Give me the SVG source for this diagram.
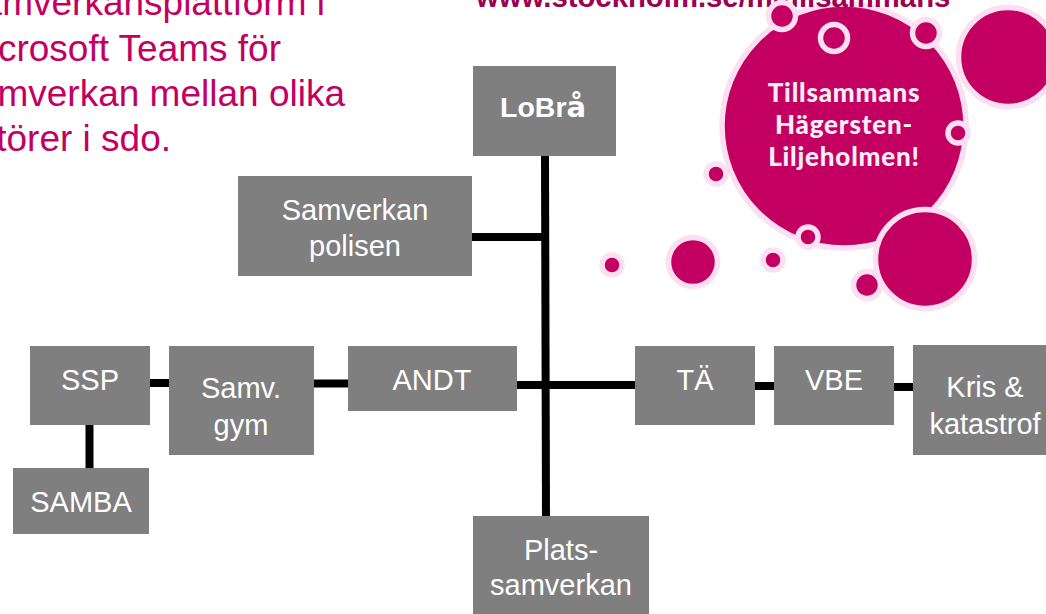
<svg xmlns="http://www.w3.org/2000/svg" width="1046" height="614" viewBox="0 0 1046 614">
<style>
.box{fill:#7f7f7f}
.lbl{font-family:"Liberation Sans",Arial,sans-serif;font-size:29px;fill:#fff;text-anchor:middle}
.intro{font-family:"Liberation Sans",Arial,sans-serif;font-size:37px;fill:#c30061;text-anchor:end}
.c{fill:#c30061;stroke:#fcdff0;stroke-width:5.500}
.hero{font-family:Lato,"Liberation Sans",sans-serif;font-weight:900;font-size:26px;letter-spacing:.8px;fill:#fdeef6;text-anchor:middle}
.ln{stroke:#000;stroke-width:8;fill:none}
</style>
<rect width="1046" height="614" fill="#fff"/>
<g id="intro">
<text class="intro" x="325" y="15">Samverkansplattform i</text>
<text class="intro" x="281" y="61">Microsoft Teams för</text>
<text class="intro" x="345" y="106">samverkan mellan olika</text>
<text class="intro" x="171" y="151">aktörer i sdo.</text>
</g>
<g id="bubbles">
<circle class="c" cx="844" cy="126" r="122"/>
<text id="url" x="476" y="7" font-family="Liberation Sans,Arial,sans-serif" font-weight="700" font-size="29.300px" fill="#9e0050">www.stockholm.se/m/tillsammans</text>
<circle class="c" cx="782" cy="16" r="13.500"/>
<circle class="c" cx="834" cy="38" r="13.500"/>
<circle class="c" cx="926" cy="33" r="13.500"/>
<circle class="c" cx="1008" cy="57" r="49.500"/>
<circle class="c" cx="958" cy="133" r="10"/>
<circle class="c" cx="716" cy="174" r="10"/>
<circle class="c" cx="808" cy="237" r="10"/>
<circle class="c" cx="773" cy="260" r="10"/>
<circle class="c" cx="612" cy="265" r="10"/>
<circle class="c" cx="693" cy="262" r="24.500"/>
<circle class="c" cx="867" cy="285" r="13.500"/>
<circle class="c" cx="925" cy="259" r="49.500"/>
<text class="hero" x="844" y="102">Tillsammans</text>
<text class="hero" x="844" y="134">Hägersten-</text>
<text class="hero" x="844" y="166">Liljeholmen!</text>
</g>
<g id="connectors">
<path class="ln" d="M545 156L546 516"/>
<path class="ln" d="M472 237H545"/>
<path class="ln" d="M517 385H635"/>
<path class="ln" d="M314 383.500H348"/>
<path class="ln" d="M150 383H169"/>
<path class="ln" d="M89.500 425V468"/>
<path class="ln" d="M755 386H774"/>
<path class="ln" d="M894 387H913"/>
</g>
<g id="node-lobra"><rect class="box" x="473" y="66" width="143" height="90"/><text x="500" y="117" font-family="Liberation Sans,Arial,sans-serif" font-size="28.500px" font-weight="700" fill="#fff">LoBr<tspan font-family="DejaVu Sans,sans-serif" font-size="29px">å</tspan></text></g>
<g id="node-polisen"><rect class="box" x="238" y="176" width="234" height="100"/><text class="lbl" x="355" y="220">Samverkan</text><text class="lbl" x="355" y="256">polisen</text></g>
<g id="node-ssp"><rect class="box" x="30" y="346" width="120" height="79"/><text class="lbl" x="90" y="390">SSP</text></g>
<g id="node-gym"><rect class="box" x="169" y="346" width="145" height="109"/><text class="lbl" x="241" y="398">Samv.</text><text class="lbl" x="241" y="435">gym</text></g>
<g id="node-andt"><rect class="box" x="348" y="346" width="169" height="65"/><text class="lbl" x="432" y="390">ANDT</text></g>
<g id="node-samba"><rect class="box" x="13" y="468" width="136" height="66"/><text class="lbl" x="81" y="512">SAMBA</text></g>
<g id="node-ta"><rect class="box" x="635" y="346" width="120" height="79"/><text class="lbl" x="695" y="390">TÄ</text></g>
<g id="node-vbe"><rect class="box" x="774" y="346" width="120" height="79"/><text class="lbl" x="834" y="390">VBE</text></g>
<g id="node-kris"><rect class="box" x="913" y="345" width="133" height="110"/><text class="lbl" x="985" y="397">Kris &amp;</text><text class="lbl" x="985" y="434">katastrof</text></g>
<g id="node-plats"><rect class="box" x="473" y="516" width="176" height="98"/><text class="lbl" x="561" y="560">Plats-</text><text class="lbl" x="561" y="595">samverkan</text></g>
</svg>
